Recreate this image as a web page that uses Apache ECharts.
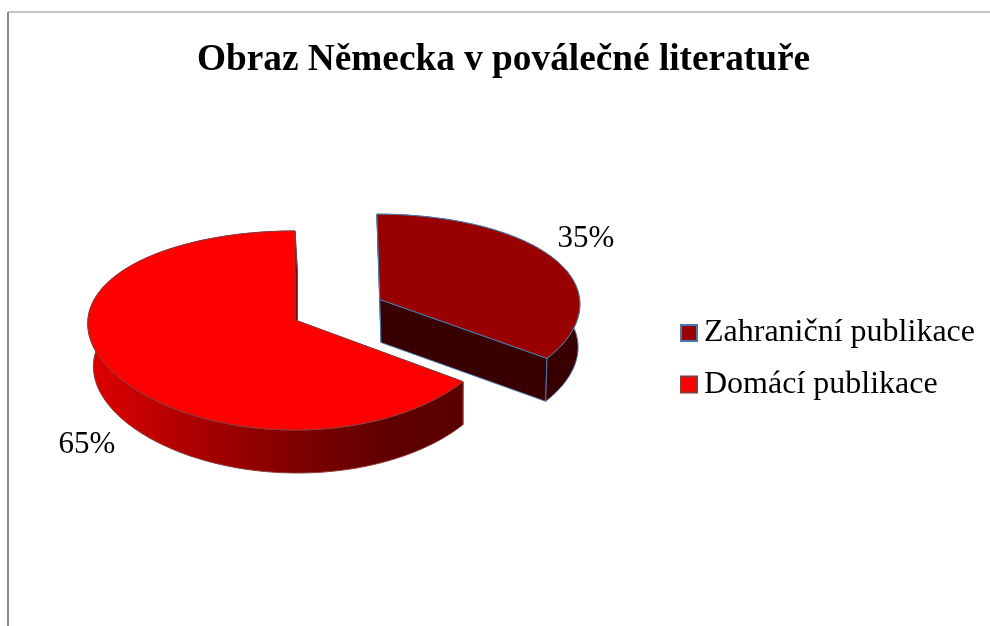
<!DOCTYPE html>
<html>
<head>
<meta charset="utf-8">
<style>
  html, body { margin: 0; background: #fff; }
  #main { width: 990px; height: 626px; }
</style>
</head>
<body>
<div id="main"></div>
<script src="https://cdn.jsdelivr.net/npm/echarts@6/dist/echarts.min.js"></script>
<script>
const titleText = 'Obraz Německa v poválečné literatuře'
const categories = ['Zahraniční publikace', 'Domácí publikace']
const shares = [35, 65]
const explode = [0.47, 0]
const topColors = ['#990000', '#ff0000']
const edgeColors = ['#4a78ad', '#8f3a3a']
const labelSpots = [[586, 239], [87, 445]]

// tilted disc, far side shrunk a little
const cx = 295, cy = 320, rx = 205, ry = 98.4, persp = 0.1055
const perspX = 0.036, skewX = 0.01
const depth = 43, vanishX = 460, bottomShrink = 0.985

const project = (X, Y, low) => {
  const w = 1 + persp * Y
  let x = cx + rx * X / (1 + perspX * Y + skewX * X)
  let y = cy - ry * Y / w
  if (low) {
    x = vanishX + (x - vanishX) * bottomShrink
    y += depth
  }
  return [x, y]
}

const sideFill = (i) => i === 0 ? '#380000' : new echarts.graphic.LinearGradient(90, 0, 460, 0, [
  { offset: 0, color: '#e00000' },
  { offset: 0.25, color: '#b00000' },
  { offset: 0.55, color: '#800000' },
  { offset: 0.8, color: '#600000' },
  { offset: 1, color: '#5a0000' }
], true)

const renderSlice = (params, api) => {
  const i = params.seriesIndex
  const share = api.value(0)
  const start = api.value(1)
  const a0 = start / 100 * Math.PI * 2
  const a1 = (start + share) / 100 * Math.PI * 2
  const mid = (a0 + a1) / 2
  const ox = Math.sin(mid) * explode[i]
  const oy = Math.cos(mid) * explode[i]

  const steps = Math.ceil(share * 2)
  const rim = []
  for (let s = 0; s <= steps; s++) {
    const a = a0 + (a1 - a0) * s / steps
    rim.push([ox + Math.sin(a), oy + Math.cos(a)])
  }
  const rimTop = rim.map(p => project(p[0], p[1], false))
  const rimLow = rim.map(p => project(p[0], p[1], true))
  const apexTop = project(ox, oy, false)
  const apexLow = project(ox, oy, true)

  const line = { stroke: edgeColors[i], lineWidth: 1 }
  const face = (points, fill) => ({
    type: 'polygon',
    shape: { points },
    style: { fill, ...line }
  })
  const side = sideFill(i)
  const last = rimTop.length - 1

  return {
    type: 'group',
    children: [
      face([apexTop, rimTop[0], rimLow[0], apexLow], side),
      face([apexTop, rimTop[last], rimLow[last], apexLow], side),
      face(rimTop.concat(rimLow.slice().reverse()), side),
      face([apexTop].concat(rimTop), topColors[i]),
      {
        type: 'text',
        style: {
          x: labelSpots[i][0],
          y: labelSpots[i][1],
          text: share + '%',
          fill: '#000',
          font: '31px "Liberation Serif"',
          align: 'center',
          verticalAlign: 'middle'
        }
      }
    ]
  }
}

let running = 0
const series = categories.map((name, i) => {
  const row = [shares[i], running]
  running += shares[i]
  return {
    name,
    type: 'custom',
    coordinateSystem: 'none',
    silent: true,
    renderItem: renderSlice,
    itemStyle: { color: topColors[i], borderColor: edgeColors[i], borderWidth: 2 },
    data: [row]
  }
})

const myChart = echarts.init(document.getElementById('main'), null, { renderer: 'canvas' })
myChart.setOption({
  animation: false,
  backgroundColor: '#fff',
  title: {
    text: titleText,
    left: 498.5,
    top: 37,
    textAlign: 'center',
    textStyle: { fontFamily: 'Liberation Serif', fontSize: 37.3, fontWeight: 'bold', color: '#000' }
  },
  legend: {
    orient: 'vertical',
    left: 675,
    top: 312,
    icon: 'rect',
    itemWidth: 16,
    itemHeight: 16,
    itemGap: 19.5,
    selectedMode: false,
    data: categories,
    textStyle: { fontFamily: 'Liberation Serif', fontSize: 32, color: '#000', padding: [0, 0, 0, 2] }
  },
  graphic: [
    { type: 'line', silent: true, shape: { x1: 8, y1: 12, x2: 990, y2: 12 }, style: { stroke: '#8c8c8c', lineWidth: 1 } },
    { type: 'line', silent: true, shape: { x1: 8, y1: 12, x2: 8, y2: 626 }, style: { stroke: '#8c8c8c', lineWidth: 2 } }
  ],
  series
})
</script>
</body>
</html>
